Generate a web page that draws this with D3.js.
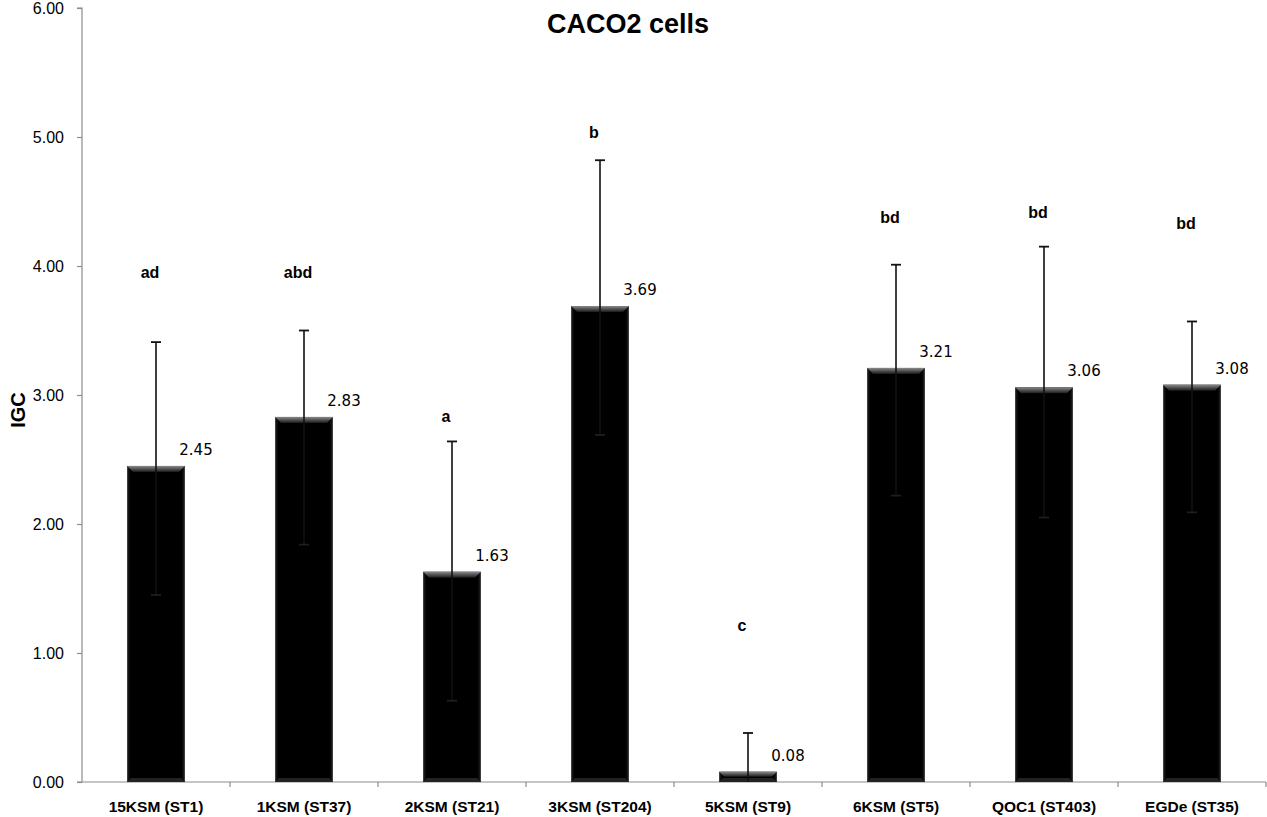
<!DOCTYPE html>
<html>
<head>
<meta charset="utf-8">
<script src="https://cdn.jsdelivr.net/npm/d3@7/dist/d3.min.js"></script>
<style>
  html, body { margin: 0; padding: 0; background: #fff; }
  svg { display: block; }
</style>
</head>
<body>
<svg id="chart" width="1267" height="817"></svg>
<script>
// ---- data ----
const categories = ["15KSM (ST1)", "1KSM (ST37)", "2KSM (ST21)", "3KSM (ST204)", "5KSM (ST9)", "6KSM (ST5)", "QOC1 (ST403)", "EGDe (ST35)"];
const values     = [2.45, 2.83, 1.63, 3.69, 0.08, 3.21, 3.06, 3.08];
const errUpper   = [0.96, 0.67, 1.01, 1.13, 0.30, 0.80, 1.09, 0.49];
const errLower   = [1.00, 0.99, 1.00, 1.00, 1.00, 0.99, 1.01, 0.99];
const letters    = ["ad", "abd", "a", "b", "c", "bd", "bd", "bd"];
const letterY    = [3.95, 3.95, 2.84, 5.04, 1.22, 4.38, 4.42, 4.33];
const yTicks     = [0, 1, 2, 3, 4, 5, 6];
const title      = "CACO2 cells";
const yTitle     = "IGC";

// ---- layout ----
const svg = d3.select("#chart");
const plotLeft = 82, plotRight = 1266, plotTop = 8, plotBottom = 782;

const x = d3.scaleBand().domain(categories).range([plotLeft, plotRight]).padding(0);
const y = d3.scaleLinear().domain([0, 6]).range([plotBottom, plotTop]);
const barW = x.bandwidth() * 0.39;
const cx = d => x(d) + x.bandwidth() / 2;

// gradients for bevel
const defs = svg.append("defs");
const gTop = defs.append("linearGradient").attr("id", "bevelTop").attr("x1", 0).attr("y1", 0).attr("x2", 0).attr("y2", 1);
gTop.append("stop").attr("offset", "0%").attr("stop-color", "#8a8a8a");
gTop.append("stop").attr("offset", "100%").attr("stop-color", "#1a1a1a");
const gBody = defs.append("linearGradient").attr("id", "body").attr("x1", 0).attr("y1", 0).attr("x2", 1).attr("y2", 0);
gBody.append("stop").attr("offset", "0%").attr("stop-color", "#222");
gBody.append("stop").attr("offset", "6%").attr("stop-color", "#000");
gBody.append("stop").attr("offset", "94%").attr("stop-color", "#000");
gBody.append("stop").attr("offset", "100%").attr("stop-color", "#222");

// ---- y axis ----
const yAxis = d3.axisLeft(y).tickValues(yTicks).tickFormat(d3.format(".2f")).tickSize(5).tickPadding(13);
const ya = svg.append("g").attr("transform", `translate(${plotLeft},0)`).call(yAxis);
ya.select(".domain").attr("stroke", "#8c8c8c").attr("stroke-width", 1.2).attr("d", `M-5,${plotTop}H0V${plotBottom}`);
ya.selectAll(".tick line").attr("stroke", "#8c8c8c").attr("stroke-width", 1.2);
ya.selectAll(".tick text").attr("font-family", "Liberation Sans, Arial, sans-serif").attr("font-size", 16).attr("fill", "#000");

// ---- x axis ----
const xa = svg.append("g").attr("transform", `translate(0,${plotBottom})`);
xa.append("line").attr("x1", plotLeft - 5).attr("x2", plotRight).attr("y1", 0).attr("y2", 0).attr("stroke", "#8c8c8c").attr("stroke-width", 1.2);
const bounds = categories.map(c => x(c)).concat([plotRight]);
xa.selectAll("line.tk").data(bounds.slice(1)).join("line").attr("class", "tk")
  .attr("x1", d => d).attr("x2", d => d).attr("y1", 0).attr("y2", 5)
  .attr("stroke", "#8c8c8c").attr("stroke-width", 1.2);
xa.selectAll("text").data(categories).join("text")
  .attr("x", d => cx(d)).attr("y", 30)
  .attr("text-anchor", "middle")
  .attr("font-family", "Liberation Sans, Arial, sans-serif").attr("font-size", 15.5).attr("font-weight", "bold")
  .text(d => d);

// ---- bars ----
const data = categories.map((c, i) => ({ c, v: values[i], up: errUpper[i], lo: errLower[i], l: letters[i], ly: letterY[i] }));
const bars = svg.append("g");
bars.selectAll("rect").data(data).join("rect")
  .attr("x", d => cx(d.c) - barW / 2).attr("width", barW)
  .attr("y", d => y(d.v)).attr("height", d => plotBottom - y(d.v))
  .attr("fill", "url(#body)");
const bev = 6;
bars.selectAll("path.bevel").data(data).join("path").attr("class", "bevel")
  .attr("d", d => {
    const x0 = cx(d.c) - barW / 2, x1 = cx(d.c) + barW / 2, t = y(d.v);
    const h = Math.min(bev, (plotBottom - t) / 2);
    return `M${x0},${t}L${x1},${t}L${x1 - h},${t + h}L${x0 + h},${t + h}Z`;
  })
  .attr("fill", "url(#bevelTop)");
bars.selectAll("path.bevelB").data(data).join("path").attr("class", "bevelB")
  .attr("d", d => {
    const x0 = cx(d.c) - barW / 2, x1 = cx(d.c) + barW / 2, b = plotBottom;
    const h = Math.min(4, (plotBottom - y(d.v)) / 2);
    return `M${x0},${b}L${x1},${b}L${x1 - h},${b - h}L${x0 + h},${b - h}Z`;
  })
  .attr("fill", "#222");

// ---- error bars ----
const eb = svg.append("g");
eb.selectAll("line.stem").data(data).join("line").attr("class", "stem")
  .attr("x1", d => cx(d.c)).attr("x2", d => cx(d.c))
  .attr("y1", d => y(d.v + d.up)).attr("y2", d => y(Math.max(0, d.v - d.lo)))
  .attr("stroke", "#111").attr("stroke-width", 1.6);
eb.selectAll("line.capT").data(data).join("line").attr("class", "capT")
  .attr("x1", d => cx(d.c) - 5).attr("x2", d => cx(d.c) + 5)
  .attr("y1", d => y(d.v + d.up)).attr("y2", d => y(d.v + d.up))
  .attr("stroke", "#111").attr("stroke-width", 1.8);
eb.selectAll("line.capB").data(data.filter(d => d.v - d.lo > 0)).join("line").attr("class", "capB")
  .attr("x1", d => cx(d.c) - 5).attr("x2", d => cx(d.c) + 5)
  .attr("y1", d => y(d.v - d.lo)).attr("y2", d => y(d.v - d.lo))
  .attr("stroke", "#1e1e1e").attr("stroke-width", 1.8);

// ---- value labels ----
svg.append("g").selectAll("text").data(data).join("text")
  .attr("x", d => cx(d.c) + 40).attr("y", d => y(d.v) - 11)
  .attr("text-anchor", "middle")
  .attr("font-family", "DejaVu Sans, Verdana, sans-serif").attr("font-size", 15)
  .text(d => d3.format(".2f")(d.v));

// ---- significance letters ----
svg.append("g").selectAll("text").data(data).join("text")
  .attr("x", d => cx(d.c) - 6).attr("y", d => y(d.ly) + 6)
  .attr("text-anchor", "middle")
  .attr("font-family", "Liberation Sans, Arial, sans-serif").attr("font-size", 16).attr("font-weight", "bold")
  .text(d => d.l);

// ---- titles ----
svg.append("text").attr("x", 628).attr("y", 33).attr("text-anchor", "middle")
  .attr("font-family", "Liberation Sans, Arial, sans-serif").attr("font-size", 27).attr("font-weight", "bold")
  .text(title);
svg.append("text").attr("transform", "translate(25,410) rotate(-90)").attr("text-anchor", "middle")
  .attr("font-family", "Liberation Sans, Arial, sans-serif").attr("font-size", 20).attr("font-weight", "bold")
  .text(yTitle);
</script>
</body>
</html>
